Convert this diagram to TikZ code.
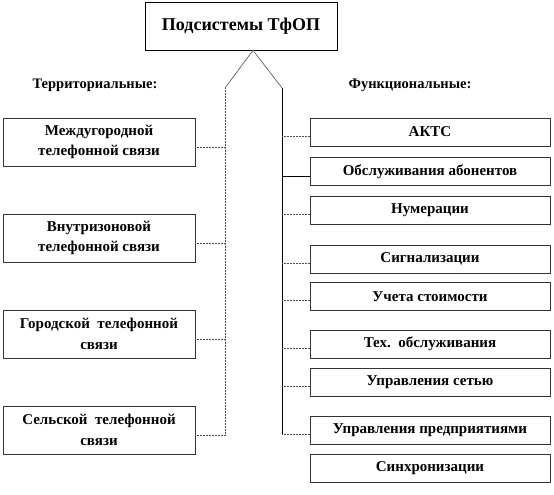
\documentclass[tikz,border=0pt]{standalone}
\usepackage{fontspec}
\setmainfont{Liberation Serif}
\usetikzlibrary{positioning}

\begin{document}
\begin{tikzpicture}[
    x=1pt, y=-1pt,
    topbox/.style={rectangle, draw=black, line width=0.6pt, minimum width=192pt, minimum height=48pt, font=\fontsize{18}{20}\selectfont\bfseries},
    terrbox/.style={rectangle, draw=black!80, line width=0.6pt, minimum width=192pt, minimum height=48pt, align=center, font=\fontsize{15}{20.5}\selectfont\bfseries},
    funcbox/.style={rectangle, draw=black!80, line width=0.6pt, minimum width=240pt, minimum height=28pt, font=\fontsize{15}{17}\selectfont\bfseries},
    grouplabel/.style={font=\fontsize{14.5}{16}\selectfont\bfseries},
    dotline/.style={black!70, line width=0.6pt, dash pattern=on 0.7pt off 0.8pt},
    solidline/.style={black, line width=0.6pt},
]
\useasboundingbox (0,0) rectangle (554,495);

\node[topbox] (title) at (241,26) {Подсистемы ТфОП};

\node[grouplabel] (terrlabel) at (95,85) {Территориальные:};
\node[grouplabel] (funclabel) at (410,85) {Функциональные:};

% territorial subsystems
\node[terrbox] (mezh) at (99,142) {Междугородной\\телефонной связи};
\node[terrbox, below=47.4pt of mezh] (vnutr) {Внутризоновой\\телефонной связи};
\node[terrbox, below=47.4pt of vnutr] (gorod) {Городской~~телефонной\\связи};
\node[terrbox, below=47.4pt of gorod] (selsk) {Сельской~~телефонной\\связи};

% functional subsystems
\node[funcbox] (akts) at (430,132) {АКТС};
\node[funcbox, below=11pt of akts] (abon) {Обслуживания абонентов};
\node[funcbox, below=10pt of abon] (numer) {Нумерации};
\node[funcbox, below=20pt of numer] (signal) {Сигнализации};
\node[funcbox, below=9pt of signal] (uchet) {Учета стоимости};
\node[funcbox, below=19pt of uchet] (tehob) {Тех.~~обслуживания};
\node[funcbox, below=10pt of tehob] (upset) {Управления сетью};
\node[funcbox, below=19pt of upset] (uppred) {Управления предприятиями};
\node[funcbox, below=9pt of uppred] (sinhr) {Синхронизации};

% branches from the title
\coordinate (apex) at ([xshift=12pt]title.south);
\coordinate (lknee) at (225,88);
\coordinate (rknee) at (282,88);
\draw[solidline, black!70] (lknee) -- (apex) -- (rknee);

% left spine
\coordinate (lfoot) at ([yshift=-5pt]selsk.east);
\draw[dotline] (lknee) -- (lknee |- lfoot);
\foreach \n in {mezh,vnutr,gorod,selsk}
  \draw[dotline] ([yshift=-5pt]\n.east) coordinate (tmp) -- (tmp -| lknee);

% right spine
\coordinate (rfoot) at ([yshift=-4pt]uppred.west);
\draw[solidline] (rknee) -- (rknee |- rfoot);
\foreach \n in {akts,numer,signal,uchet,tehob,upset,uppred}
  \draw[dotline] ([yshift=-4pt]\n.west) coordinate (tmp) -- (tmp -| rknee);
\draw[solidline] ([yshift=-5pt]abon.west) coordinate (tmp) -- (tmp -| rknee);
\end{tikzpicture}
\end{document}
